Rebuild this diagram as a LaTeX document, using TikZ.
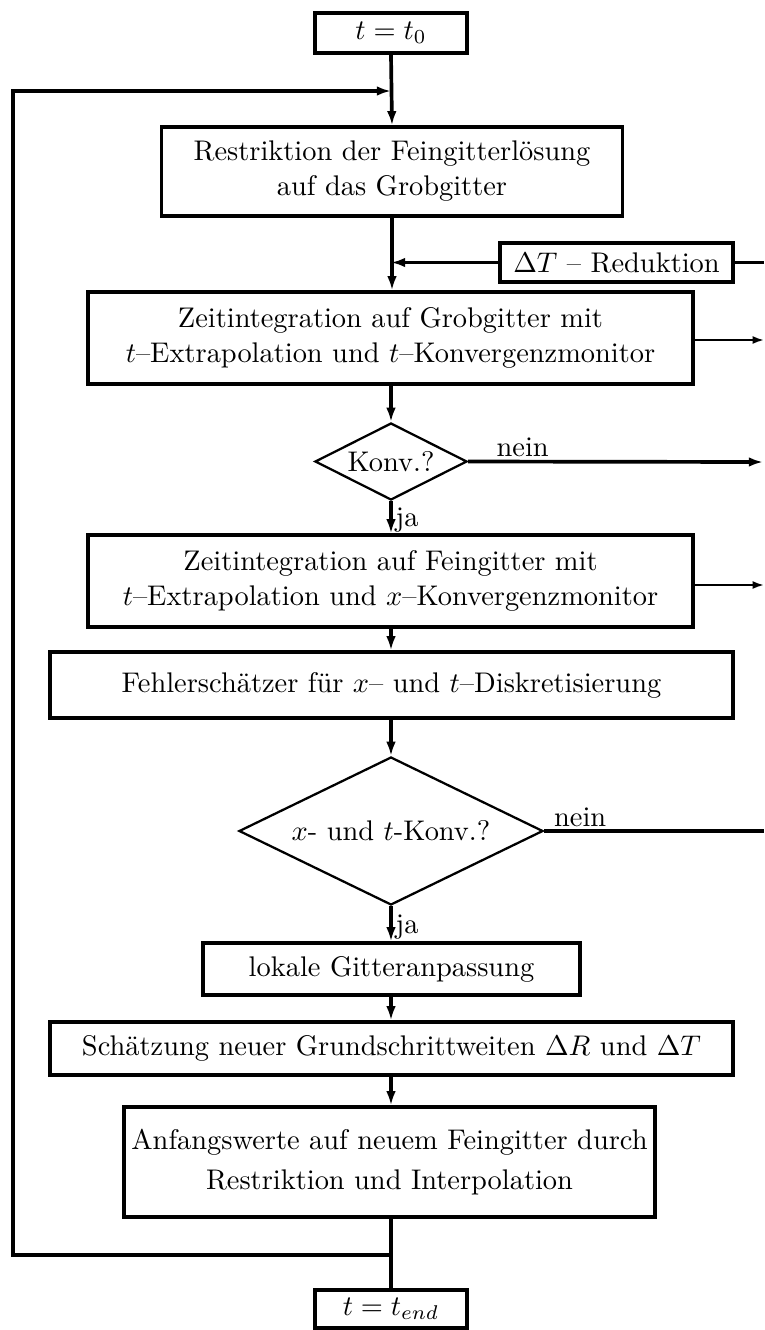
\documentclass[tikz,border=0pt]{standalone}
\usepackage{fontspec}
\usetikzlibrary{shapes.geometric,arrows.meta}
\begin{document}
\begin{tikzpicture}[x=0.352pt,y=-0.352pt,
  box/.style={draw,line width=1.2pt,inner sep=0pt,align=center,font=\fontsize{10}{12.3}\selectfont},
  dia/.style={draw,shape=diamond,line width=0.8pt,inner sep=0pt,shape aspect=2,font=\fontsize{10}{12.3}\selectfont},
  flow/.style={line width=1.3pt,-{Latex[length=5pt,width=3.4pt]}},
  thinflow/.style={line width=0.7pt,-{Latex[length=4pt,width=2.8pt]}},
  plain/.style={line width=1.3pt},
  lab/.style={inner sep=1pt,font=\fontsize{10}{12}\selectfont}]
\useasboundingbox (0,0) rectangle (764,1330);
\node[box,minimum width={152*0.352pt},minimum height={40*0.352pt}] (t0) at (391,33) {$t=t_0$};
\node[box,minimum width={461*0.352pt},minimum height={89*0.352pt}] (b1) at (392,171.5) {Restriktion der Feingitterlösung\\auf das Grobgitter};
\node[box,minimum width={233*0.352pt},minimum height={39*0.352pt}] (red) at (616.5,262.5) {$\Delta T$ -- Reduktion};
\node[box,minimum width={605*0.352pt},minimum height={92*0.352pt}] (b2) at (390.5,338) {Zeitintegration auf Grobgitter mit\\$t$--Extrapolation und $t$--Konvergenzmonitor};
\node[dia,minimum width={152*0.352pt},minimum height={77*0.352pt}] (d1) at (391,461.5) {Konv.?};
\node[box,minimum width={605*0.352pt},minimum height={92*0.352pt}] (b3) at (390.5,581) {Zeitintegration auf Feingitter mit\\$t$--Extrapolation und $x$--Konvergenzmonitor};
\node[box,minimum width={683*0.352pt},minimum height={66*0.352pt}] (b4) at (391.5,685) {Fehlerschätzer für $x$-- und $t$--Diskretisierung};
\node[dia,minimum width={304*0.352pt},minimum height={148*0.352pt}] (d2) at (391,831) {$x$- und $t$-Konv.?};
\node[box,minimum width={377*0.352pt},minimum height={52*0.352pt}] (b5) at (391.5,969) {lokale Gitteranpassung};
\node[box,minimum width={683*0.352pt},minimum height={53*0.352pt}] (b6) at (391.5,1048.5) {Schätzung neuer Grundschrittweiten $\Delta R$ und $\Delta T$};
\node[box,minimum width={531*0.352pt},minimum height={110*0.352pt}] (b7) at (389.5,1162) {Anfangswerte auf neuem Feingitter durch\\[2pt]Restriktion und Interpolation};
\node[box,minimum width={152*0.352pt},minimum height={38*0.352pt}] (tend) at (391,1309) {$t=t_{end}$};
\coordinate (j1) at (391,91);
\coordinate (j2) at (391,262.5);
\coordinate (lp) at (391,1255);
\coordinate (lpl) at (13,1255);
\coordinate (lpt) at (13,91);
\coordinate (rred) at (764,262.5);
\coordinate (rb2) at (764,340);
\coordinate (rd1) at (763,462);
\coordinate (rb3) at (764,585);
\coordinate (rd2) at (764,831);
% main flow
\draw[flow] (t0.south) -- (b1.north);
\draw[flow] (b1.south) -- (b2.north -| b1.south);
\draw[flow] (b2.south -| d1.north) -- (d1.north);
\draw[flow] (d1.south) -- node[lab,pos=0.6,right] {ja} (b3.north -| d1.south);
\draw[flow] (b3.south -| d1.south) -- (b4.north -| d1.south);
\draw[flow] (b4.south -| d2.north) -- (d2.north);
\draw[flow] (d2.south) -- node[lab,pos=0.6,right] {ja} (b5.north -| d2.south);
\draw[flow] (b5.south -| d2.south) -- (b6.north -| d2.south);
\draw[flow] (b6.south -| d2.south) -- (b7.north -| d2.south);
\draw[plain] (b7.south -| tend.north) -- (tend.north);
% loop back
\draw[flow] (lp) -- (lpl) -- (lpt) -- (j1);
% Delta T reduction
\draw[flow] (red.west) -- (j2);
\draw[plain] (red.east) -- (rred);
% right outputs
\draw[thinflow] (b2.east |- rb2) -- (rb2);
\draw[flow] (d1.east) -- node[lab,pos=0.1,above right,xshift=-2pt] {nein} (rd1);
\draw[thinflow] (b3.east |- rb3) -- (rb3);
\draw[plain] (d2.east) -- node[lab,pos=0.05,above right,xshift=-2pt] {nein} (rd2);
\end{tikzpicture}
\end{document}
